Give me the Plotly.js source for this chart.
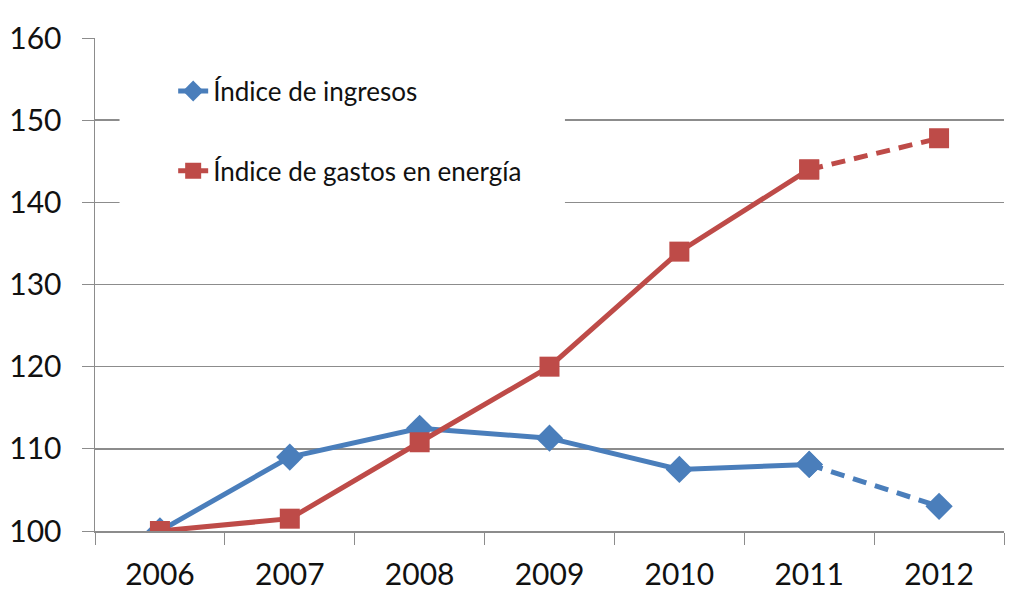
<!DOCTYPE html>
<html>
<head>
<meta charset="utf-8">
<script src="https://cdn.plot.ly/plotly-3.0.1.min.js"></script>
<style>
  html, body { margin: 0; padding: 0; background: #fff; }
  #plot { width: 1016px; height: 601px; }
</style>
</head>
<body>
<div id="plot"></div>
<script>
// Data
const years = ['2006', '2007', '2008', '2009', '2010', '2011', '2012'];
const ingresos = [100, 109.0, 112.5, 111.3, 107.5, 108.1, 103.0];
const gastos = [100, 101.5, 110.8, 120.0, 134.0, 144.0, 147.8];

const nameIngresos = 'Índice de ingresos';
const nameGastos = 'Índice de gastos en energía';

const blue = '#4a7ebb';
const red = '#be4b48';
const grey = '#8c8c8c';
const font = 'Lato, "Open Sans", sans-serif';

// last point is a projection, drawn dashed
const solidEnd = 6;

const traces = [
  {
    x: years.slice(0, solidEnd), y: ingresos.slice(0, solidEnd),
    type: 'scatter', mode: 'lines+markers', name: nameIngresos,
    legendgroup: 'a',
    line: {color: blue, width: 5},
    marker: {symbol: 'diamond', size: 21, color: blue}
  },
  {
    x: years.slice(solidEnd - 1), y: ingresos.slice(solidEnd - 1),
    type: 'scatter', mode: 'lines+markers', showlegend: false,
    line: {color: blue, width: 5, dash: '14px,9px'},
    marker: {symbol: 'diamond', size: 21, color: blue}
  },
  {
    x: years.slice(0, solidEnd), y: gastos.slice(0, solidEnd),
    type: 'scatter', mode: 'lines+markers', name: nameGastos,
    legendgroup: 'b',
    line: {color: red, width: 5},
    marker: {symbol: 'square', size: 20, color: red}
  },
  {
    x: years.slice(solidEnd - 1), y: gastos.slice(solidEnd - 1),
    type: 'scatter', mode: 'lines+markers', showlegend: false,
    line: {color: red, width: 5, dash: '14px,9px'},
    marker: {symbol: 'square', size: 20, color: red}
  }
];

const layout = {
  width: 1016, height: 601,
  margin: {l: 95, r: 12, t: 38, b: 70},
  paper_bgcolor: '#fff', plot_bgcolor: '#fff',
  font: {family: font, color: '#111'},
  showlegend: true,
  legend: {
    x: 0.086, y: 0.94, xanchor: 'left', yanchor: 'top',
    bgcolor: 'rgba(0,0,0,0)', borderwidth: 0,
    font: {family: font, size: 26, color: '#111'},
    tracegroupgap: 43, itemclick: false
  },
  // white box behind the legend, hiding the gridlines there
  shapes: [{
    type: 'rect', xref: 'paper', yref: 'paper', layer: 'above',
    x0: 0.027, x1: 0.517, y0: 0.645, y1: 0.96,
    fillcolor: '#fff', line: {width: 0}
  }],
  xaxis: {
    type: 'category', range: [-0.5, 6.5],
    tickson: 'boundaries', ticks: 'outside', ticklen: 12, tickcolor: grey,
    showline: true, linecolor: grey, linewidth: 1.5,
    showgrid: false, zeroline: false,
    tickfont: {family: font, size: 30, color: '#111'},
    ticklabelstandoff: 16
  },
  yaxis: {
    range: [100, 160], dtick: 10, tick0: 100,
    ticks: 'outside', ticklen: 12, tickcolor: grey,
    showline: true, linecolor: grey, linewidth: 1.5,
    showgrid: true, gridcolor: grey, gridwidth: 1.5, zeroline: false,
    tickfont: {family: font, size: 30, color: '#111'},
    ticklabelstandoff: 14
  }
};

Plotly.newPlot('plot', traces, layout, {staticPlot: true});
</script>
</body>
</html>
